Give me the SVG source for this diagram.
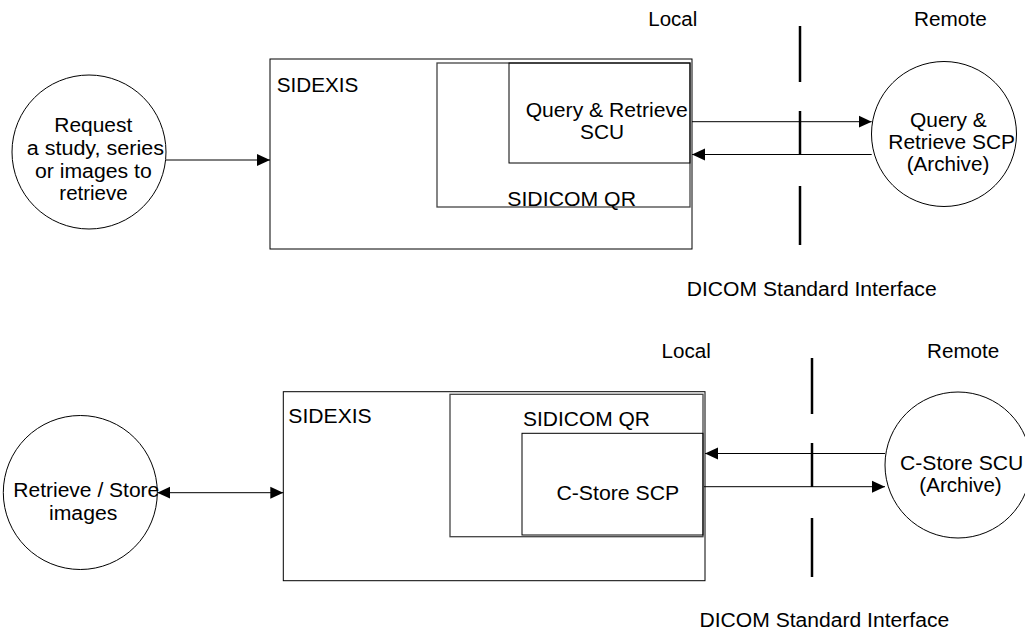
<svg xmlns="http://www.w3.org/2000/svg" width="1025" height="633" viewBox="0 0 1025 633">
<style>
text{font-family:"Liberation Sans",Arial,sans-serif;font-size:20px;fill:#000}
.node{fill:none;stroke:#000;stroke-width:1}
.inner{fill:none;stroke:#444;stroke-width:1.3}
.conn{fill:none;stroke:#000;stroke-width:1}
.iface{fill:none;stroke:#000;stroke-width:2.5}
</style>
<defs>
<marker id="ah" markerUnits="userSpaceOnUse" markerWidth="14" markerHeight="13" refX="13" refY="6" orient="auto-start-reverse" viewBox="0 0 14 12">
<path d="M0,0 L13,6 L0,12 z" fill="#000"/>
</marker>
</defs>
<rect width="1025" height="633" fill="#fff"/>

<!-- Top diagram -->
<g id="request-circle">
<circle class="node" cx="89" cy="152" r="77"/>
<text x="54.3" y="132.3" textLength="78" lengthAdjust="spacingAndGlyphs">Request</text>
<text x="26.7" y="155" textLength="137.3" lengthAdjust="spacingAndGlyphs">a study, series</text>
<text x="35" y="177.7" textLength="116.7" lengthAdjust="spacingAndGlyphs">or images to</text>
<text x="59.3" y="200" textLength="68.4" lengthAdjust="spacingAndGlyphs">retrieve</text>
</g>
<g id="sidexis-top">
<rect class="node" x="270" y="59" width="422" height="190"/>
<text x="276.7" y="91.7" textLength="81.6" lengthAdjust="spacingAndGlyphs">SIDEXIS</text>
</g>
<g id="sidicom-qr-top">
<rect class="inner" x="437" y="63" width="253" height="144"/>
<text x="507.3" y="205.5" textLength="128.7" lengthAdjust="spacingAndGlyphs">SIDICOM QR</text>
</g>
<g id="qr-scu">
<rect class="node" x="509" y="63" width="181" height="100"/>
<text x="525.7" y="116.7" textLength="162" lengthAdjust="spacingAndGlyphs">Query &amp; Retrieve</text>
<text x="580" y="139.3" textLength="44" lengthAdjust="spacingAndGlyphs">SCU</text>
</g>
<g id="qr-scp-circle">
<circle class="node" cx="944" cy="134" r="72.5"/>
<text x="910" y="127.3" textLength="76.7" lengthAdjust="spacingAndGlyphs">Query &amp;</text>
<text x="888.3" y="149" textLength="126.7" lengthAdjust="spacingAndGlyphs">Retrieve SCP</text>
<text x="906.7" y="170.7" textLength="82.6" lengthAdjust="spacingAndGlyphs">(Archive)</text>
</g>
<g id="labels-top">
<text x="648.3" y="26" textLength="49" lengthAdjust="spacingAndGlyphs">Local</text>
<text x="914" y="26" textLength="72.7" lengthAdjust="spacingAndGlyphs">Remote</text>
<text x="686.7" y="296" textLength="250" lengthAdjust="spacingAndGlyphs">DICOM Standard Interface</text>
</g>

<!-- Bottom diagram -->
<g id="retrieve-store-circle">
<circle class="node" cx="80.3" cy="492.5" r="77"/>
<text x="13.3" y="496.7" textLength="146" lengthAdjust="spacingAndGlyphs">Retrieve / Store</text>
<text x="49" y="520" textLength="68.3" lengthAdjust="spacingAndGlyphs">images</text>
</g>
<g id="sidexis-bottom">
<rect class="node" x="283.3" y="391.7" width="421.7" height="189"/>
<text x="288.3" y="423.3" textLength="83.4" lengthAdjust="spacingAndGlyphs">SIDEXIS</text>
</g>
<g id="sidicom-qr-bottom">
<rect class="inner" x="450" y="394.3" width="253" height="142.4"/>
<text x="523" y="425.7" textLength="127" lengthAdjust="spacingAndGlyphs">SIDICOM QR</text>
</g>
<g id="cstore-scp">
<rect class="node" x="522" y="433.3" width="181" height="101.7"/>
<text x="556.4" y="500" textLength="122.9" lengthAdjust="spacingAndGlyphs">C-Store SCP</text>
</g>
<g id="cstore-scu-circle">
<circle class="node" cx="958" cy="465" r="73"/>
<text x="900" y="470" textLength="123.3" lengthAdjust="spacingAndGlyphs">C-Store SCU</text>
<text x="919.3" y="491.7" textLength="82.4" lengthAdjust="spacingAndGlyphs">(Archive)</text>
</g>
<g id="labels-bottom">
<text x="661.5" y="358.3" textLength="49.3" lengthAdjust="spacingAndGlyphs">Local</text>
<text x="927" y="358" textLength="72.3" lengthAdjust="spacingAndGlyphs">Remote</text>
<text x="699.5" y="626.7" textLength="249.7" lengthAdjust="spacingAndGlyphs">DICOM Standard Interface</text>
</g>

<g id="connectors">
<line class="conn" x1="166" y1="160" x2="270" y2="160" marker-end="url(#ah)"/>
<line class="conn" x1="692" y1="121.7" x2="871.7" y2="121.7" marker-end="url(#ah)"/>
<line class="conn" x1="871.7" y1="154.5" x2="692" y2="154.5" marker-end="url(#ah)"/>
<line class="conn" x1="157.3" y1="492.7" x2="283.3" y2="492.7" marker-start="url(#ah)" marker-end="url(#ah)"/>
<line class="conn" x1="885" y1="453.5" x2="705" y2="453.5" marker-end="url(#ah)"/>
<line class="conn" x1="704" y1="486.7" x2="885" y2="486.7" marker-end="url(#ah)"/>
</g>
<g id="interface-lines">
<line class="iface" x1="800" y1="26" x2="800" y2="82"/>
<line class="iface" x1="800" y1="111" x2="800" y2="155"/>
<line class="iface" x1="800" y1="186" x2="800" y2="245"/>
<line class="iface" x1="812" y1="358" x2="812" y2="414"/>
<line class="iface" x1="812" y1="443" x2="812" y2="487"/>
<line class="iface" x1="812" y1="518" x2="812" y2="577"/>
</g>
</svg>
